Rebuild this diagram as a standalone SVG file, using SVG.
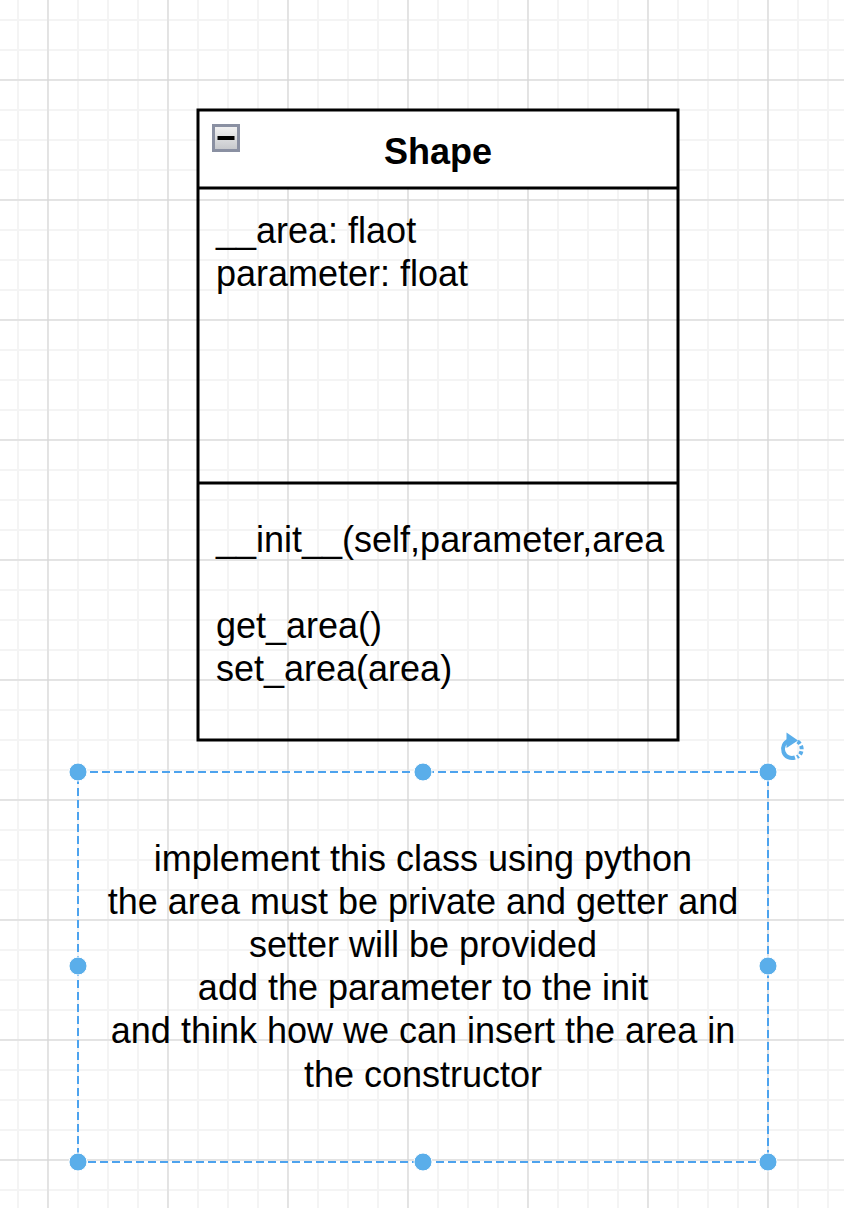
<svg xmlns="http://www.w3.org/2000/svg" width="844" height="1208" viewBox="0 0 844 1208">
  <style>
    .t { font-family: "Liberation Sans", Arial, Helvetica, sans-serif; font-size: 36px; fill: #000000; }
    .title { font-weight: bold; text-anchor: middle; }
    .note { text-anchor: middle; }
    .box { fill: none; stroke: #000000; stroke-width: 3; }
    .sel { fill: none; stroke: #4da3ee; stroke-width: 2; stroke-dasharray: 8 4; }
    .handle { fill: #5aaeea; stroke: #ffffff; stroke-width: 1; }
  </style>
  <defs>
    <pattern id="minor" patternUnits="userSpaceOnUse" x="3" y="5" width="30" height="30">
      <path d="M15 0 V30 M0 15 H30" stroke="#f4f4f4" stroke-width="2" fill="none"/>
    </pattern>
    <pattern id="major" patternUnits="userSpaceOnUse" x="-12" y="20" width="120" height="120">
      <path d="M60 0 V120 M0 60 H120" stroke="#d3d3d3" stroke-width="1" fill="none"/>
    </pattern>
    <linearGradient id="btn" x1="0" y1="0" x2="0" y2="1">
      <stop offset="0" stop-color="#f4f4f4"/>
      <stop offset="1" stop-color="#c4c6ca"/>
    </linearGradient>
  </defs>

  <rect x="0" y="0" width="844" height="1208" fill="#ffffff"/>
  <rect x="0" y="0" width="844" height="1208" fill="url(#minor)"/>
  <rect x="0" y="0" width="844" height="1208" fill="url(#major)"/>

  <g id="shape-class">
    <rect x="198" y="110" width="480" height="78" fill="#ffffff"/>
    <rect class="box" x="198" y="110" width="480" height="630"/>
    <line x1="198" y1="188" x2="678" y2="188" stroke="#000000" stroke-width="3"/>
    <line x1="198" y1="483" x2="678" y2="483" stroke="#000000" stroke-width="3"/>
    <g id="collapse-icon">
      <rect x="213.5" y="125.5" width="25" height="25" fill="url(#btn)" stroke="#8a90a2" stroke-width="3"/>
      <rect x="217.5" y="136" width="17" height="4" fill="#000000"/>
    </g>
    <text class="t title" x="438" y="164">Shape</text>
    <text class="t" x="216" y="243">__area: flaot</text>
    <text class="t" x="216" y="286">parameter: float</text>
    <text class="t" x="216" y="552">__init__(self,parameter,area</text>
    <text class="t" x="216" y="638">get_area()</text>
    <text class="t" x="216" y="681">set_area(area)</text>
  </g>

  <g id="note">
    <text class="t note" x="423" y="871">implement this class using python</text>
    <text class="t note" x="423" y="914">the area must be private and getter and</text>
    <text class="t note" x="423" y="957">setter will be provided</text>
    <text class="t note" x="423" y="1000">add the parameter to the init</text>
    <text class="t note" x="423" y="1043">and think how we can insert the area in</text>
    <text class="t note" x="423" y="1087">the constructor</text>
  </g>

  <g id="selection">
    <rect class="sel" x="78" y="772" width="690" height="390"/>
    <circle class="handle" cx="78" cy="772" r="9"/>
    <circle class="handle" cx="423" cy="772" r="9"/>
    <circle class="handle" cx="768" cy="772" r="9"/>
    <circle class="handle" cx="78" cy="966" r="9"/>
    <circle class="handle" cx="768" cy="966" r="9"/>
    <circle class="handle" cx="78" cy="1162" r="9"/>
    <circle class="handle" cx="423" cy="1162" r="9"/>
    <circle class="handle" cx="768" cy="1162" r="9"/>
    <g id="rotate-handle" fill="none" stroke="#5aaeea" stroke-width="4">
      <path d="M795 757.5 A9 9 0 0 1 789 740.5"/>
      <path d="M797.5 741.5 A9 9 0 0 1 797 757" stroke-dasharray="3.5 2"/>
      <polygon points="786.5,732.5 798,740.5 786.5,748" fill="#5aaeea" stroke="none"/>
    </g>
  </g>
</svg>
